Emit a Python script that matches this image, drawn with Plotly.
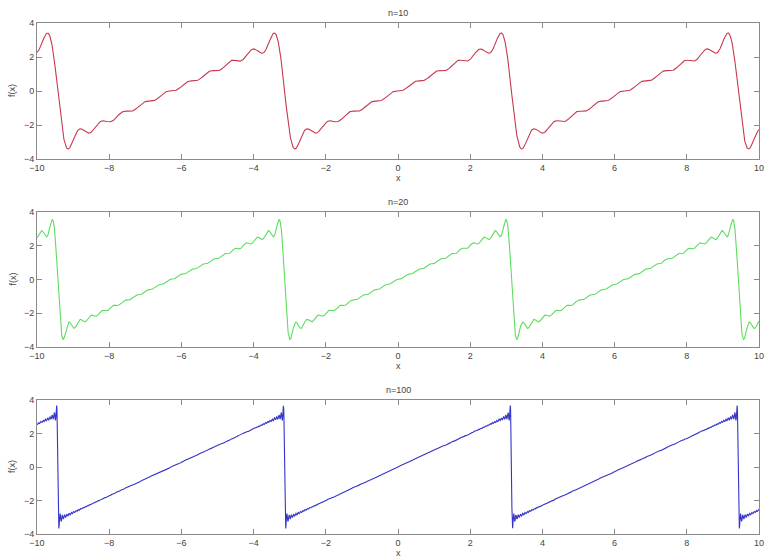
import numpy as np
import plotly.graph_objects as go

# Number of Fourier terms used in each panel of f(x) = x on (-pi, pi), period 2*pi
n_terms = [10, 20, 100]
panel_titles = ["n=10", "n=20", "n=100"]
line_colors = ["#c8384e", "#5fdc5f", "#3434c8"]

x_ticks = [-10, -8, -6, -4, -2, 0, 2, 4, 6, 8, 10]
y_ticks = [-4, -2, 0, 2, 4]

x = np.linspace(-10, 10, 4001)


def partial_sum(xv, n):
    k = np.arange(1, n + 1)
    b = 2.0 * (-1.0) ** (k + 1) / k
    return (b[None, :] * np.sin(np.outer(xv, k))).sum(axis=1)


W, H = 765, 560
left_px, right_px = 37, 759
panels_px = [(23, 159), (212, 347), (400, 534)]

fig = go.Figure()
frame = "#8a8a8a"
font = dict(family="Liberation Sans, Arial, sans-serif", size=9, color="#444444")

for i, (n, title, color) in enumerate(zip(n_terms, panel_titles, line_colors)):
    top, bot = panels_px[i]
    xa = "x" if i == 0 else f"x{i+1}"
    ya = "y" if i == 0 else f"y{i+1}"
    fig.add_trace(go.Scatter(x=x, y=partial_sum(x, n), mode="lines",
                             line=dict(color=color, width=1.1),
                             xaxis=xa, yaxis=ya, showlegend=False,
                             hoverinfo="skip"))
    ax_common = dict(showgrid=False, zeroline=False, showline=True, mirror="ticks",
                     linecolor=frame, linewidth=1, ticks="inside", ticklen=5,
                     tickcolor=frame, tickfont=font, ticklabeloverflow="allow",
                     automargin=False)
    xkey = "xaxis" if i == 0 else f"xaxis{i+1}"
    ykey = "yaxis" if i == 0 else f"yaxis{i+1}"
    fig.update_layout(**{
        xkey: dict(ax_common, domain=[left_px / W, right_px / W], range=[-10, 10],
                   tickvals=x_ticks, anchor=ya, ticklabelstandoff=0),
        ykey: dict(ax_common, domain=[1 - bot / H, 1 - top / H], range=[-4, 4],
                   tickvals=y_ticks, anchor=xa),
    })
    cx = (left_px + right_px) / 2 / W
    fig.add_annotation(text=title, x=cx, y=1 - (top - 10) / H, xref="paper", yref="paper",
                       showarrow=False, font=font, yanchor="middle")
    fig.add_annotation(text="x", x=cx, y=1 - (bot + 19) / H, xref="paper", yref="paper",
                       showarrow=False, font=font, yanchor="middle")
    fig.add_annotation(text="f(x)", x=12 / W, y=1 - (top + bot) / 2 / H, xref="paper",
                       yref="paper", showarrow=False, textangle=-90, font=font,
                       xanchor="center", yanchor="middle")

fig.update_layout(width=W, height=H, margin=dict(l=0, r=0, t=0, b=0, autoexpand=False),
                  paper_bgcolor="white", plot_bgcolor="white")

fig.write_html("out.html")
